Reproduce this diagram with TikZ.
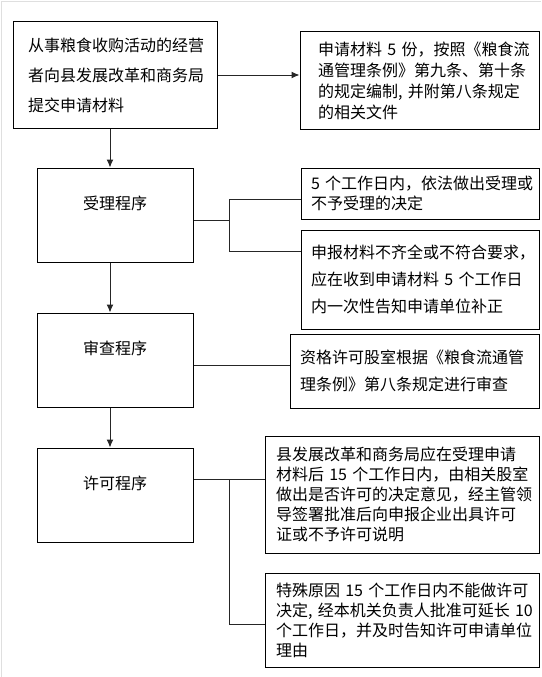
\documentclass[tikz,border=0pt]{standalone}
\usepackage{fontspec}
\setmainfont{Noto Sans CJK SC}
\usepackage{xcolor}
\usepackage{tikz}
\usetikzlibrary{positioning}
\usetikzlibrary{arrows.meta}
\usetikzlibrary{calc}

\begin{document}
\begin{tikzpicture}
    [%%%%%%%%%%%%%%%%%%%%%%%%%%%%%%
        x=1pt,y=-1pt,
        stepbox/.style={rectangle,draw=black,line width=1pt,minimum width=156pt,minimum height=94pt,
            text height=14pt,text depth=26pt,font=\fontsize{16}{20}\selectfont},
        notebox/.style={rectangle,draw=black,line width=1pt,align=left,font=\fontsize{16}{20}\selectfont},
        link/.style={draw=black!85,line width=1pt},
        >={Latex[length=8pt,width=7pt]}
    ]%%%%%%%%%%%%%%%%%%%%%%%%%%%%%%
\useasboundingbox (0,0) rectangle (541,677);
\draw[gray!25,line width=1pt] (1.5,677) -- (1.5,2) -- (541,2);

% left column
\node[notebox,minimum width=204pt,minimum height=106pt,inner xsep=15pt,text width=174pt,
      font=\fontsize{16}{30}\selectfont] (apply) at (115,75)
    {从事粮食收购活动的经营\\者向县发展改革和商务局\\提交申请材料};

\node[stepbox] (accept) at (115,215) {受理程序};
\node[stepbox] (check) at (115,360) {审查程序};
\node[stepbox] (permit) at (115,495) {许可程序};

% right column
\node[notebox,minimum width=239pt,minimum height=97pt,inner xsep=18pt,text width=203pt,
      font=\fontsize{16}{21}\selectfont] (docs) at (419.5,80.5)
    {申请材料~5~份，按照《粮食流\\通管理条例》第九条、第十条\\的规定编制,~并附第八条规定\\的相关文件};

\node[notebox,minimum width=238pt,minimum height=51pt,inner xsep=10pt,text width=218pt] (ok) at (420,193.5)
    {5~个工作日内，依法做出受理或\\不予受理的决定};

\node[notebox,minimum width=238pt,minimum height=99pt,inner xsep=10pt,text width=218pt,
      font=\fontsize{16}{27}\selectfont] (short) at (420,279.5)
    {申报材料不齐全或不符合要求，\\应在收到申请材料~5~个工作日\\内一次性告知申请单位补正};

\node[notebox,minimum width=249pt,minimum height=74pt,inner xsep=10pt,text width=229pt,
      font=\fontsize{16}{27}\selectfont] (review) at (414.5,371)
    {资格许可股室根据《粮食流通管\\理条例》第八条规定进行审查};

\node[notebox,minimum width=274pt,minimum height=117pt,inner xsep=11pt,text width=252pt] (grant) at (402,494.5)
    {县发展改革和商务局应在受理申请\\材料后~15~个工作日内，由相关股室\\做出是否许可的决定意见，经主管领\\导签署批准后向申报企业出具许可\\证或不予许可说明};

\node[notebox,minimum width=274pt,minimum height=94pt,inner xsep=11pt,text width=252pt] (extend) at (402,620)
    {特殊原因~15~个工作日内不能做许可\\决定,~经本机关负责人批准可延长~10\\个工作日，并及时告知许可申请单位\\理由};

% main flow
\draw[link,->] (apply.east) -- (apply.east -| docs.west);
\draw[link,->] ([xshift=-5pt]apply.south) -- ([xshift=-5pt]accept.north);
\draw[link,->] ([xshift=-5pt]accept.south) -- ([xshift=-5pt]check.north);
\draw[link,->] ([xshift=-5pt]check.south) -- ([xshift=-5pt]permit.north);

% accept branch
\coordinate (acceptout) at ([yshift=-5pt]accept.east);
\path (acceptout) ++(36,0) coordinate (fork1);
\coordinate (okin) at ([yshift=-5.5pt]ok.west);
\coordinate (shortin) at ([yshift=28.5pt]short.west);
\draw[link] (acceptout) -- (fork1);
\draw[link] (okin) -| (fork1) |- (shortin);

% check branch
\coordinate (checkout) at ([yshift=-5pt]check.east);
\draw[link] (checkout) -- (checkout -| review.west);

% permit branch
\coordinate (permitout) at ([yshift=15.5pt]permit.east);
\path (permitout) ++(36,0) coordinate (fork2);
\coordinate (extendin) at ([yshift=-4pt]extend.west);
\draw[link] (permitout) -- (permitout -| grant.west);
\draw[link] (fork2) |- (extendin);

\end{tikzpicture}
\end{document}
